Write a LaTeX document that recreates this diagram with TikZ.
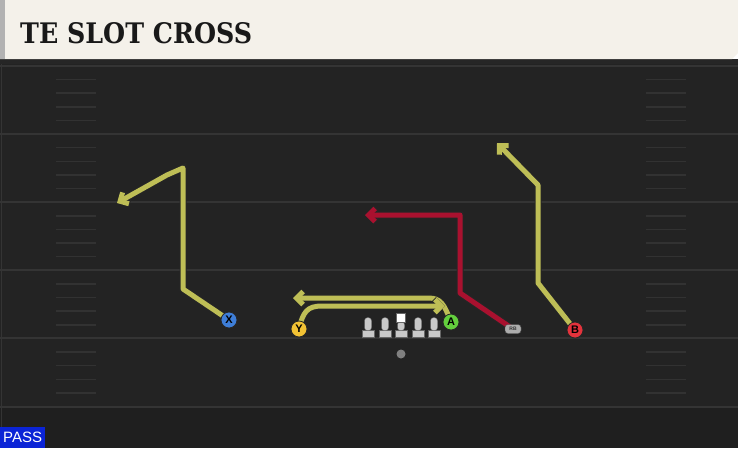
\documentclass[tikz,border=0pt]{standalone}
\usepackage{fontspec}
\setmainfont{Liberation Sans}
\newfontfamily\titlefont{DejaVu Serif}
\usetikzlibrary{arrows.meta,positioning}
\definecolor{field}{HTML}{232323}
\definecolor{fieldlow}{HTML}{1F1F1F}
\definecolor{yardline}{HTML}{343434}
\definecolor{hashmark}{HTML}{323232}
\definecolor{header}{HTML}{F4F1EA}
\definecolor{routeyel}{HTML}{BEBE56}
\definecolor{routered}{HTML}{A9112F}
\definecolor{xblue}{HTML}{3E7ED8}
\definecolor{yyellow}{HTML}{F2C234}
\definecolor{agreen}{HTML}{63CF3D}
\definecolor{bred}{HTML}{E4333C}
\definecolor{lmgray}{HTML}{C9C9C9}
\definecolor{passblue}{HTML}{0B24D6}
\pgfdeclarelayer{turf}
\pgfdeclarelayer{bg}
\pgfsetlayers{turf,bg,main}
\tikzset{
    player/.style={circle, draw=black!85, line width=0.8pt, fill=#1, minimum size=16pt,
        inner sep=0pt, font=\bfseries\fontsize{11}{11}\selectfont},
    route/.style={draw=#1, line width=5pt, line join=round,
        preaction={draw=black!85, line width=7pt},
        -{Straight Barb[length=6.5pt,width=13pt]}},
    linebase/.style={rectangle, fill=lmgray, draw=black!60, line width=0.4pt,
        minimum width=12pt, minimum height=7pt, inner sep=0pt},
    linestem/.style={rectangle, rounded corners=3pt, fill=lmgray, draw=black!60,
        line width=0.4pt, minimum width=7pt, minimum height=13pt, inner sep=0pt},
    hash/.style={hashmark, line width=1.5pt},
}

\begin{document}
\begin{tikzpicture}[x=1pt,y=-1pt]
\useasboundingbox (0,0) rectangle (738,448);
\begin{pgfonlayer}{turf}
% field
\fill[field] (0,59) rectangle (738,448);
\fill[fieldlow] (0,407) rectangle (738,448);
\fill[black!85] (0,59) rectangle (738,64);
\draw[yardline, line width=1pt] (1,64) -- (1,448);
\foreach \k in {0,...,5}
    \draw[yardline, line width=2pt] (0,66+68.1*\k) -- (738,66+68.1*\k);
\foreach \k in {0,...,4}
    \foreach \j in {1,...,4}{
        \draw[hash] (56,66+68.1*\k+13.62*\j) -- (96,66+68.1*\k+13.62*\j);
        \draw[hash] (646,66+68.1*\k+13.62*\j) -- (686,66+68.1*\k+13.62*\j);
    }
% header
\fill[header] (0,0) -- (738,0) -- (738,53) -- (732,59) -- (0,59) -- cycle;
\fill[black!30] (0,0) rectangle (5,59);
\end{pgfonlayer}
\node[anchor=base west, inner sep=0pt, text=black!90] (title) at (20,43)
    {\resizebox{232pt}{21pt}{\titlefont\bfseries TE SLOT CROSS}};

% players
\node[player=xblue] (X) at (229,320) {X};
\node[player=yyellow] (Y) at (299,329) {Y};
\node[player=agreen] (A) at (451,322) {A};
\node[player=bred] (B) at (575,330) {B};
\node[rectangle, rounded corners=3pt, fill=black!32, draw=black!70, line width=0.4pt,
    minimum width=16pt, minimum height=9pt, inner sep=0pt, text=black!80,
    font=\bfseries\fontsize{5}{5}\selectfont] (RB) at (513,329) {RB};
\node[circle, fill=black!50, minimum size=9pt, inner sep=0pt] (QB) at (401,354) {};

% line
\foreach \lx/\ln in {368/lt,385/lg,418/rg,434/rt}{
    \node[linebase] (\ln) at (\lx,333.5) {};
    \node[linestem, above=-1pt of \ln] (\ln s) {};
}
\node[linebase] (c) at (401,333.5) {};
\node[linestem, minimum height=9pt, above=-1pt of c] (cs) {};
\node[rectangle, fill=white, draw=black!60, line width=0.4pt, minimum size=9pt,
    inner sep=0pt, above=-1pt of cs] (ball) {};

% routes
\coordinate (xend) at (117,203);
\coordinate (bend) at (497,143);
\coordinate (rbend) at (365,215);
\coordinate (aend) at (293,298);
\coordinate (yend) at (445,306);
\begin{pgfonlayer}{bg}
\draw[route=routeyel] (X.center) -- (183,289) -- (183,168) -- (167,175) -- (xend);
\draw[route=routeyel] (B.center) -- (538,283) -- (538,185) -- (bend);
\draw[route=routered] (RB.center) -- (460,293) -- (460,215) -- (rbend);
\draw[route=routeyel] (A.center) .. controls (444,304) and (441,298) .. (428,298) -- (aend);
\draw[route=routeyel] (Y.center) .. controls (303,312) and (307,306) .. (322,306) -- (yend);
\end{pgfonlayer}

\node[fill=passblue, anchor=south west, minimum width=45pt, minimum height=21pt,
    inner sep=0pt, text=white, font=\fontsize{15}{15}\selectfont] (pass) at (0,448) {PASS};
\end{tikzpicture}
\end{document}
